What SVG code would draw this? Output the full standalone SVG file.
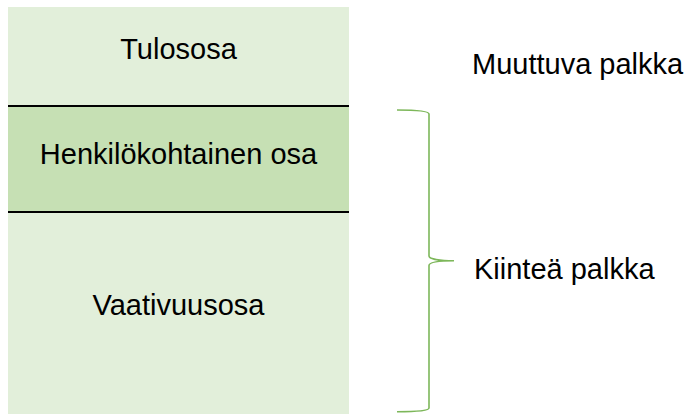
<svg xmlns="http://www.w3.org/2000/svg" width="690" height="414" viewBox="0 0 690 414">
  <style>
    .lbl { font-family: "Liberation Sans", Arial, sans-serif; font-size: 29px; fill: #000; }
    .mid { text-anchor: middle; }
    .sep { stroke: #000; stroke-width: 2; }
    .brace { fill: none; stroke: #7DB75A; stroke-width: 1.6; }
  </style>
  <rect x="0" y="0" width="690" height="414" fill="#fff"/>
  <g id="tulososa">
    <rect x="8" y="7" width="341" height="99" fill="#E2EFDA"/>
    <text class="lbl mid" x="178.5" y="58.5">Tulososa</text>
  </g>
  <g id="henkilokohtainen">
    <rect x="8" y="106" width="341" height="106" fill="#C6E0B4"/>
    <text class="lbl mid" x="178.5" y="163.5">Henkilökohtainen osa</text>
  </g>
  <g id="vaativuusosa">
    <rect x="8" y="212" width="341" height="202" fill="#E2EFDA"/>
    <text class="lbl mid" x="178.5" y="315">Vaativuusosa</text>
  </g>
  <g id="muuttuva">
    <text class="lbl" x="472" y="73.5">Muuttuva palkka</text>
  </g>
  <g id="kiintea">
    <text class="lbl" x="474" y="278.5">Kiinteä palkka</text>
  </g>
  <g id="connectors">
    <line class="sep" x1="8" y1="106" x2="349" y2="106"/>
    <line class="sep" x1="8" y1="212" x2="349" y2="212"/>
    <path class="brace" d="M397,110 C415,110 429,111 429,114 L429,256 C429,259 440,260.7 454,260.7 C440,260.7 429,262 429,265.5 L429,408 C429,411 415,411.7 397,411.7"/>
  </g>
</svg>
